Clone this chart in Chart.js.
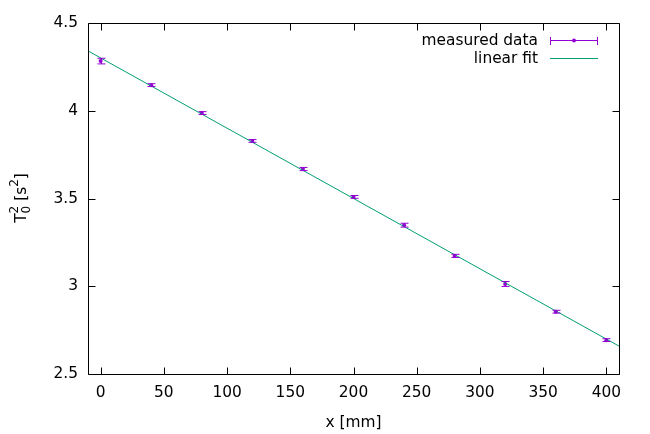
<!DOCTYPE html>
<html>
<head>
<meta charset="utf-8">
<script src="https://cdn.jsdelivr.net/npm/chart.js@4"></script>
<style>
  html, body { margin: 0; padding: 0; background: #fff; }
  #wrap { width: 650px; height: 434px; }
</style>
</head>
<body>
<div id="wrap"><canvas id="c" width="650" height="434"></canvas></div>
<script>
// data
const xPos = [0, 40, 80, 120, 160, 200, 240, 280, 320, 360, 400];
const t0sq = [4.283, 4.146, 3.987, 3.828, 3.668, 3.509, 3.348, 3.173, 3.013, 2.855, 2.693];
const t0sqErr = [0.016, 0.008, 0.008, 0.008, 0.009, 0.008, 0.011, 0.009, 0.014, 0.008, 0.008];
// linear fit, drawn across the whole x range
const fitX = [-10, 410];
const fitY = [4.341, 2.659];
const xTicks = [0, 50, 100, 150, 200, 250, 300, 350, 400];
const yTicks = [2.5, 3, 3.5, 4, 4.5];

const purple = '#9400d3';
const green = '#009e73';
const FSIZE = 15.4;
const FONT = FSIZE + 'px "DejaVu Sans", sans-serif';

// error bars with caps
const errorBars = {
    id: 'errorBars',
    afterDatasetsDraw(chart) {
        const ctx = chart.ctx;
        const xs = chart.scales.x, ys = chart.scales.y;
        ctx.save();
        ctx.strokeStyle = purple;
        ctx.lineWidth = 1;
        xPos.forEach((x, i) => {
            const px = Math.round(xs.getPixelForValue(x)) + 0.5;
            const top = ys.getPixelForValue(t0sq[i] + t0sqErr[i]);
            const bot = ys.getPixelForValue(t0sq[i] - t0sqErr[i]);
            ctx.beginPath();
            ctx.moveTo(px, top); ctx.lineTo(px, bot);
            ctx.moveTo(px - 4, top); ctx.lineTo(px + 4, top);
            ctx.moveTo(px - 4, bot); ctx.lineTo(px + 4, bot);
            ctx.stroke();
        });
        ctx.restore();
    }
};

// gnuplot-like frame, inward ticks, legend and y title
const frame = {
    id: 'frame',
    afterDraw(chart) {
        const ctx = chart.ctx;
        const a = chart.chartArea;
        const xs = chart.scales.x, ys = chart.scales.y;
        const L = Math.round(a.left) + 0.5, R = Math.round(a.right) + 0.5;
        const T = Math.round(a.top) + 0.5, B = Math.round(a.bottom) + 0.5;
        ctx.save();
        ctx.strokeStyle = '#000';
        ctx.lineWidth = 1;
        ctx.beginPath();
        ctx.rect(L, T, R - L, B - T);
        xTicks.forEach(v => {
            const p = Math.round(xs.getPixelForValue(v)) + 0.5;
            ctx.moveTo(p, B); ctx.lineTo(p, B - 7);
            ctx.moveTo(p, T); ctx.lineTo(p, T + 7);
        });
        yTicks.forEach(v => {
            const p = Math.round(ys.getPixelForValue(v)) + 0.5;
            ctx.moveTo(L, p); ctx.lineTo(L + 7, p);
            ctx.moveTo(R, p); ctx.lineTo(R - 7, p);
        });
        ctx.stroke();

        // legend
        ctx.font = FONT;
        ctx.fillStyle = '#000';
        ctx.textAlign = 'right';
        ctx.textBaseline = 'middle';
        ctx.fillText('measured data', 538, 41);
        ctx.fillText('linear fit', 538, 59);
        ctx.strokeStyle = purple;
        ctx.beginPath();
        ctx.moveTo(550, 40.5); ctx.lineTo(598, 40.5);
        ctx.moveTo(550.5, 37); ctx.lineTo(550.5, 45);
        ctx.moveTo(597.5, 37); ctx.lineTo(597.5, 45);
        ctx.stroke();
        ctx.fillStyle = purple;
        ctx.beginPath();
        ctx.arc(574, 40.5, 2, 0, Math.PI * 2);
        ctx.fill();
        ctx.strokeStyle = green;
        ctx.beginPath();
        ctx.moveTo(550, 58.5); ctx.lineTo(598, 58.5);
        ctx.stroke();

        // y title: T_0^2 [s^2]
        ctx.translate(26, 198);
        ctx.rotate(-Math.PI / 2);
        ctx.fillStyle = '#000';
        ctx.textBaseline = 'alphabetic';
        ctx.textAlign = 'left';
        const small = '12px "DejaVu Sans", sans-serif';
        const m = (t, f) => { ctx.font = f; return ctx.measureText(t).width; };
        const wT = m('T', FONT), wSub = Math.max(m('0', small), m('2', small));
        const wMid = m(' [s', FONT), wSup = m('2', small), wEnd = m(']', FONT);
        const total = wT + wSub + wMid + wSup + wEnd;
        let x = -total / 2;
        ctx.font = FONT; ctx.fillText('T', x, 0); x += wT;
        ctx.font = small; ctx.fillText('0', x, 4); ctx.fillText('2', x, -8); x += wSub;
        ctx.font = FONT; ctx.fillText(' [s', x, 0); x += wMid;
        ctx.font = small; ctx.fillText('2', x, -8); x += wSup;
        ctx.font = FONT; ctx.fillText(']', x, 0);
        ctx.restore();
    }
};

new Chart(document.getElementById('c'), {
    type: 'scatter',
    data: {
        datasets: [
            {
                label: 'linear fit',
                type: 'line',
                data: fitX.map((x, i) => ({ x: x, y: fitY[i] })),
                borderColor: green,
                borderWidth: 1,
                pointRadius: 0,
                fill: false
            },
            {
                label: 'measured data',
                data: xPos.map((x, i) => ({ x: x, y: t0sq[i] })),
                backgroundColor: purple,
                borderColor: purple,
                pointRadius: 2,
                borderWidth: 0
            }
        ]
    },
    options: {
        responsive: false,
        animation: false,
        layout: { padding: { top: 23, right: 31, left: 0, bottom: 0 } },
        plugins: {
            legend: { display: false },
            tooltip: { enabled: false }
        },
        scales: {
            x: {
                type: 'linear',
                min: -10,
                max: 410,
                afterBuildTicks: s => { s.ticks = xTicks.map(v => ({ value: v })); },
                afterFit: s => { s.height = 60; },
                grid: { display: false, drawTicks: false },
                border: { display: false },
                ticks: { color: '#000', font: { family: 'DejaVu Sans', size: FSIZE }, padding: 10, maxRotation: 0,
                         callback: v => String(v) },
                title: { display: true, text: 'x [mm]', color: '#000', font: { family: 'DejaVu Sans', size: FSIZE }, padding: { top: 4, bottom: 2 } }
            },
            y: {
                type: 'linear',
                min: 2.5,
                max: 4.5,
                afterBuildTicks: s => { s.ticks = yTicks.map(v => ({ value: v })); },
                afterFit: s => { s.width = 88; },
                grid: { display: false, drawTicks: false },
                border: { display: false },
                ticks: { color: '#000', font: { family: 'DejaVu Sans', size: FSIZE }, padding: 10,
                         callback: v => String(v) }
            }
        }
    },
    plugins: [errorBars, frame]
});
</script>
</body>
</html>
